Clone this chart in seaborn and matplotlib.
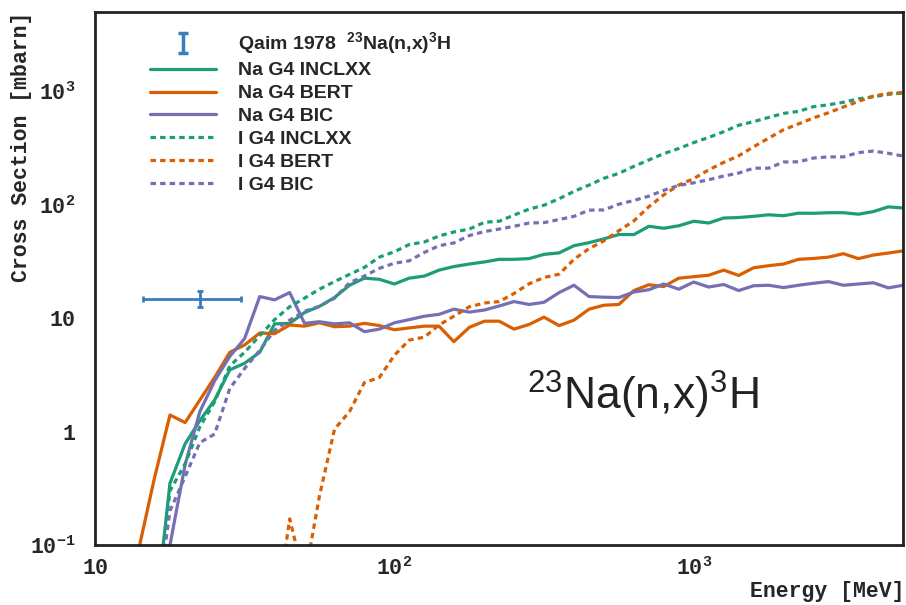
import numpy as np
import pandas as pd
import matplotlib
matplotlib.use("Agg")
import matplotlib.pyplot as plt
import seaborn as sns
from matplotlib.ticker import FixedLocator, FixedFormatter, NullFormatter

# ---------------- data ----------------
energy = [10.0, 11.2, 12.6, 14.1, 15.8, 17.8, 20.0, 22.4, 25.1, 28.2, 31.6, 35.5, 39.8,
          44.7, 50.1, 56.2, 63.1, 70.8, 79.4, 89.1, 100, 112, 126, 141, 158, 178, 200,
          224, 251, 282, 316, 355, 398, 447, 501, 562, 631, 708, 794, 891, 1000, 1122,
          1259, 1413, 1585, 1778, 1995, 2239, 2512, 2818, 3162, 3548, 3981, 4467, 5012]
nan = np.nan
na_inclxx = [nan, nan, nan, nan, 0.02, 0.35, 0.78, 1.25, 1.9, 3.5, 4.0, 5.0, 8.9, 9.0, 11.2,
             12.7, 15.2, 19.5, 22.5, 22.0, 20.0, 22.5, 23.5, 26.5, 28.5, 30.0, 31.3, 33.0,
             33.0, 33.5, 36.5, 37.6, 43.5, 46.3, 50, 54.6, 54.5, 64.5, 62, 65.2, 71.5, 69,
             76.3, 77.1, 79, 81.5, 80, 84.2, 84, 85, 85, 82.5, 87, 95.7, 93.5]
na_bert = [nan, nan, nan, 0.1, 0.39, 1.4, 1.2, 1.9, 3.0, 5.0, 5.8, 7.4, 7.3, 8.7, 8.5, 9.1,
           8.4, 8.5, 9.0, 8.6, 7.9, 8.2, 8.5, 8.5, 6.2, 8.3, 9.4, 9.4, 8.0, 8.8, 10.2, 8.6,
           9.6, 12.0, 13.0, 13.2, 17.5, 19.7, 19.0, 22.5, 23.2, 23.9, 26.5, 23.8, 27.8, 29.0,
           30.0, 33.0, 33.6, 34.5, 37.0, 33.5, 36.0, 37.5, 39.2]
na_bic = [nan, nan, nan, nan, nan, 0.1, 0.51, 1.5, 2.8, 4.6, 6.6, 15.5, 14.5, 16.8, 9.0, 9.3,
          8.9, 9.1, 7.6, 8.0, 9.1, 9.7, 10.4, 10.8, 12.0, 11.3, 11.8, 12.8, 14.0, 13.2, 13.8,
          16.8, 19.5, 15.5, 15.3, 15.2, 17.0, 17.8, 20.0, 18.0, 20.8, 18.8, 19.8, 17.5, 19.3,
          19.5, 18.6, 19.5, 20.3, 21.0, 19.5, 20.0, 20.5, 18.5, 19.5]
i_inclxx = [nan, nan, nan, nan, 0.02, 0.3, 0.52, 1.1, 1.83, 3.8, 5.0, 7.0, 9.7, 12.6, 15.0,
            18.0, 21.0, 24.3, 28, 34.5, 38.5, 44.5, 47, 53, 57.5, 61, 70, 71.5, 81, 91.5, 99,
            113, 131, 149, 171, 189, 218, 248, 282, 313, 353, 392, 440, 502, 540, 588, 638,
            665, 732, 760, 800, 857, 895, 940, 965]
i_bert = [nan, nan, nan, nan, nan, nan, nan, nan, nan, nan, nan, nan, 0.02, 0.17, 0.05, 0.27,
          1.05, 1.5, 2.7, 3.0, 4.7, 6.4, 6.8, 8.7, 10.4, 12.6, 13.6, 14.0, 16.5, 20.1, 22.8,
          24.4, 33, 41, 48, 59, 72, 96, 122, 149, 170, 203, 236, 270, 324, 386, 458, 516,
          582, 647, 727, 815, 907, 958, 975]
i_bic = [nan, nan, nan, nan, 0.02, 0.2, 0.4, 0.8, 0.95, 2.4, 3.6, 5.2, 7.8, 9.6, 11.5, 12.7,
         15.0, 20.5, 23.5, 27.5, 30.5, 32, 38, 43.5, 46, 53.5, 58, 61, 64.5, 69, 69.5, 74, 79,
         89.5, 90, 101, 109, 119, 134, 148, 156, 166, 179, 190, 210, 210, 238, 239, 258, 264,
         264, 288, 297, 284, 268]

# Qaim 1978 measurement
qaim_e = [22.4]
qaim_e_lo = [14.5]
qaim_e_hi = [30.7]
qaim_xs = [14.7]
qaim_xs_lo = [12.5]
qaim_xs_hi = [17.3]

series_labels = ["Na G4 INCLXX", "Na G4 BERT", "Na G4 BIC", "I G4 INCLXX", "I G4 BERT", "I G4 BIC"]
series_values = [na_inclxx, na_bert, na_bic, i_inclxx, i_bert, i_bic]

x_ticks = [10, 100, 1000]
x_ticklabels = [r"$\mathtt{10}$", r"$\mathtt{10^{2}}$", r"$\mathtt{10^{3}}$"]
y_ticks = [0.1, 1, 10, 100, 1000]
y_ticklabels = [r"$\mathtt{10^{-1}}$", r"$\mathtt{1}$", r"$\mathtt{10}$", r"$\mathtt{10^{2}}$", r"$\mathtt{10^{3}}$"]

# ---------------- style ----------------
sns.set_style("white")
plt.rcParams["font.family"] = ["Liberation Sans", "DejaVu Sans"]
plt.rcParams["mathtext.fontset"] = "custom"
plt.rcParams["mathtext.rm"] = "Liberation Sans"
plt.rcParams["mathtext.bf"] = "Liberation Sans:bold"
plt.rcParams["mathtext.tt"] = "Liberation Mono:bold"

GREEN, ORANGE, PURPLE, BLUE = "#1b9e77", "#d95f02", "#7570b3", "#3a7dbb"
colors = [GREEN, ORANGE, PURPLE, GREEN, ORANGE, PURPLE]
dotted = (0, (1.7, 1.3))
styles = ["-", "-", "-", dotted, dotted, dotted]

fig = plt.figure(figsize=(9.06, 6.05), dpi=100)
ax = fig.add_axes([95 / 906, 60 / 605, 808 / 906, 533 / 605])
ax.set_xscale("log")
ax.set_yscale("log")

handles = []
for lab, vals, c, ls in zip(series_labels, series_values, colors, styles):
    df = pd.DataFrame({"E": energy, "xs": vals}).dropna()
    sns.lineplot(data=df, x="E", y="xs", ax=ax, color=c, linewidth=2.3, linestyle=ls,
                 estimator=None, sort=False, legend=False)
    ln = ax.lines[-1]
    ln.set_label(lab)
    handles.append(ln)

xe = np.array(qaim_e)
ye = np.array(qaim_xs)
ax.errorbar(xe, ye,
            xerr=[xe - np.array(qaim_e_lo), np.array(qaim_e_hi) - xe],
            yerr=[ye - np.array(qaim_xs_lo), np.array(qaim_xs_hi) - ye],
            fmt="none", ecolor=BLUE, elinewidth=2, capsize=2.2, capthick=2)
proxy = ax.errorbar([nan], [nan], yerr=[1], fmt="none", ecolor=BLUE, elinewidth=2.5,
                    capsize=3.5, capthick=2.5)

ax.set_xlim(10, 5000)
ax.set_ylim(0.1, 5000)

# ticks
ax.xaxis.set_major_locator(FixedLocator(x_ticks))
ax.xaxis.set_major_formatter(FixedFormatter(x_ticklabels))
ax.yaxis.set_major_locator(FixedLocator(y_ticks))
ax.yaxis.set_major_formatter(FixedFormatter(y_ticklabels))
minor_x = [m * d for d in (10, 100, 1000) for m in range(2, 10) if m * d <= 5000]
minor_y = [m * d for d in (0.1, 1, 10, 100, 1000) for m in range(2, 10) if m * d <= 5000]
ax.xaxis.set_minor_locator(FixedLocator(minor_x))
ax.yaxis.set_minor_locator(FixedLocator(minor_y))
ax.xaxis.set_minor_formatter(NullFormatter())
ax.yaxis.set_minor_formatter(NullFormatter())
ax.tick_params(axis="both", which="both", direction="in", color="#222222", width=1.1,
               top=False, right=False)
ax.tick_params(axis="x", which="major", length=12, pad=9, labelsize=15.5)
ax.tick_params(axis="x", which="minor", length=6.5)
ax.tick_params(axis="y", which="major", length=16, pad=14, labelsize=15.5)
ax.tick_params(axis="y", which="minor", length=8.5)
for s in ax.spines.values():
    s.set_linewidth(2)
    s.set_color("#222222")

ax.set_xlabel("")
ax.set_ylabel("")
fig.text(22 / 906, 1 - 12 / 605, "Cross Section [mbarn]", rotation=90, ha="center", va="top",
         family="Liberation Mono", weight="bold", fontsize=15.5)
fig.text(905 / 906, 1 - 592 / 605, "Energy [MeV]", ha="right", va="center",
         family="Liberation Mono", weight="bold", fontsize=15.5)

# annotation
ax.text((527 - 95) / 808, (545 - 410) / 533, r"$\mathrm{^{23}Na(n{,}x)^{3}H}$",
        transform=ax.transAxes, ha="left", va="baseline", fontsize=32, color="#222222")

# legend
leg_labels = [r"Qaim 1978  $^{\mathbf{23}}$Na(n,x)$^{\mathbf{3}}$H"] + series_labels
leg = ax.legend([proxy] + handles, leg_labels, loc="upper left",
                bbox_to_anchor=(150 / 906, 1 - 30 / 605), bbox_transform=fig.transFigure,
                frameon=False, borderpad=0, borderaxespad=0, handlelength=3.4,
                handletextpad=1.15, labelspacing=0.27,
                prop={"family": "Liberation Sans", "weight": "bold", "size": 14})

fig.savefig("out.png", dpi=100)
